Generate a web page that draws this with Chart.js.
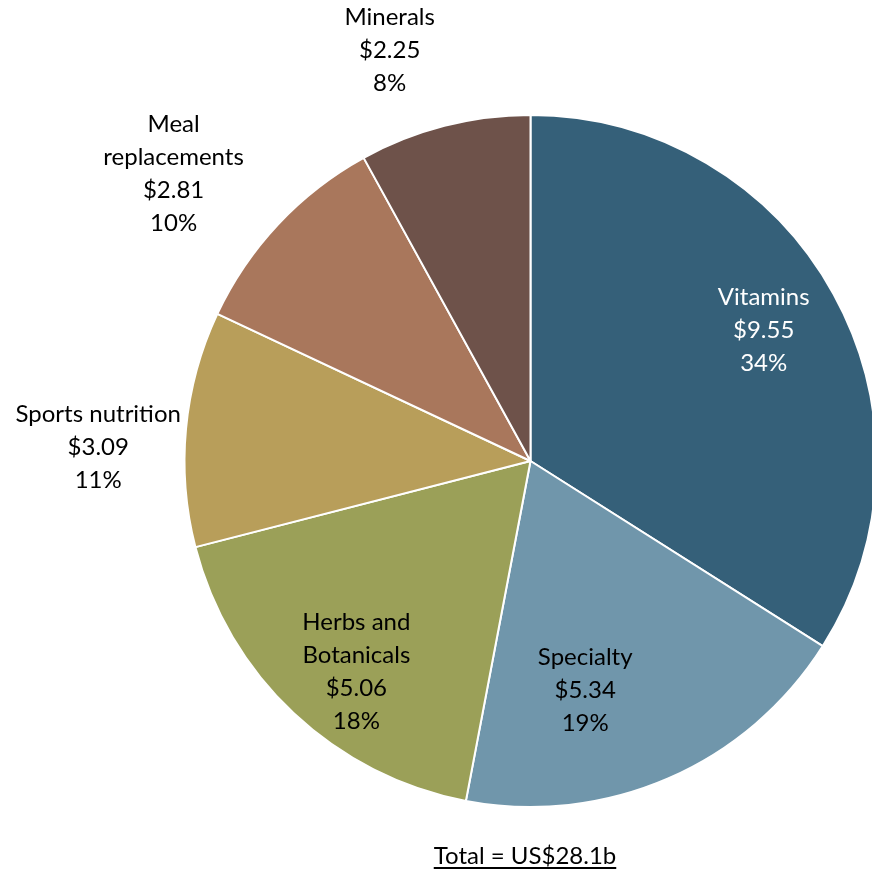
<!DOCTYPE html>
<html>
<head>
<meta charset="utf-8">
<script src="https://cdn.jsdelivr.net/npm/chart.js@4.4.0/dist/chart.umd.min.js"></script>
<style>
  html, body { margin: 0; padding: 0; background: #fff; overflow: hidden; }
  #wrap { width: 872px; height: 872px; overflow: hidden; }
</style>
</head>
<body>
<div id="wrap"><canvas id="myChart" width="880" height="872"></canvas></div>
<script>
// supplement market by category, US$ billions
const categories = ['Vitamins', 'Specialty', 'Herbs and Botanicals', 'Sports nutrition', 'Meal replacements', 'Minerals'];
const sales = [9.55, 5.34, 5.06, 3.09, 2.81, 2.25];
const percents = ['34%', '19%', '18%', '11%', '10%', '8%'];
const totalLabel = 'Total = US$28.1b';

// label text lines (Excel wrapped some of them)
const labelLines = [
    ['Vitamins'],
    ['Specialty'],
    ['Herbs and', 'Botanicals'],
    ['Sports nutrition'],
    ['Meal', 'replacements'],
    ['Minerals']
];

const colors = ['#356079', '#7096ab', '#9ba058', '#b89e5a', '#a9775c', '#6e524a'];
const textColors = ['#ffffff', '#000000', '#000000', '#000000', '#000000', '#000000'];
// where each label sits: fraction of radius, and a small angle nudge in degrees
const labelRadius = [0.773, 0.68, 0.79, 1.25, 1.325, 1.256];
const labelShift = [-0.5, 10, -3.6, -3.5, -4.3, -4.5];

const FONT = "24px Lato";
const LINE_H = 33;

const pieLabels = {
    id: 'pieLabels',
    afterDraw(chart) {
        const ctx = chart.ctx;
        const meta = chart.getDatasetMeta(0);
        ctx.save();
        ctx.font = FONT;
        ctx.textAlign = 'center';
        ctx.textBaseline = 'middle';
        meta.data.forEach(function(arc, i) {
            const p = arc.getProps(['x', 'y', 'startAngle', 'endAngle', 'outerRadius'], true);
            const mid = (p.startAngle + p.endAngle) / 2 + labelShift[i] * Math.PI / 180;
            const r = p.outerRadius * labelRadius[i];
            const cx = p.x + Math.cos(mid) * r;
            const cy = p.y + Math.sin(mid) * r;
            const lines = labelLines[i].concat(['$' + sales[i].toFixed(2), percents[i]]);
            const top = cy - (lines.length - 1) * LINE_H / 2;
            ctx.fillStyle = textColors[i];
            lines.forEach(function(t, k) {
                ctx.fillText(t, cx, top + k * LINE_H);
            });
        });

        // total, underlined, under the pie
        const tx = 525, ty = 856;
        ctx.fillStyle = '#000';
        ctx.fillText(totalLabel, tx, ty);
        const w = ctx.measureText(totalLabel).width;
        ctx.fillRect(tx - w / 2, ty + 11, w, 2);
        ctx.restore();
    }
};

const ctx = document.getElementById('myChart').getContext('2d');
const myChart = new Chart(ctx, {
    type: 'pie',
    data: {
        labels: categories,
        datasets: [{
            data: sales,
            backgroundColor: colors,
            borderColor: '#ffffff',
            borderWidth: 2
        }]
    },
    options: {
        responsive: false,
        animation: false,
        layout: {
            padding: { left: 183, right: 2, top: 114, bottom: 64 }
        },
        plugins: {
            legend: { display: false },
            tooltip: { enabled: false }
        }
    },
    plugins: [pieLabels]
});
</script>
</body>
</html>
